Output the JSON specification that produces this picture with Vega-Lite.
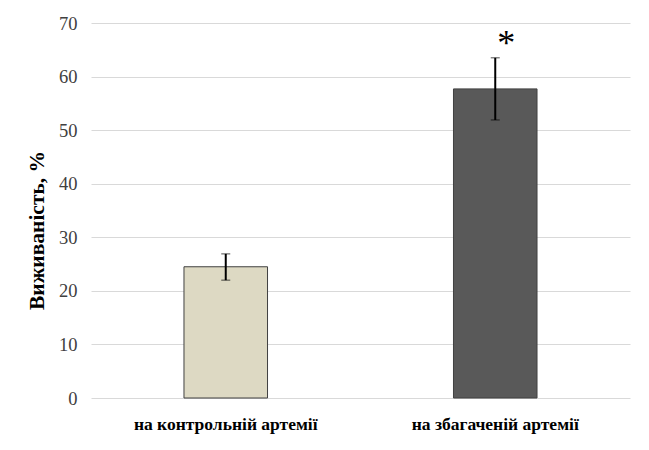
{
  "$schema": "https://vega.github.io/schema/vega-lite/v6.json",
  "width": 539,
  "height": 375,
  "autosize": {"type": "none"},
  "padding": {"left": 91, "top": 23, "right": 19, "bottom": 52},
  "background": "white",
  "config": {"view": {"stroke": null}, "font": "Liberation Serif"},
  "data": {"values": [
    {"group": "на контрольній артемії", "value": 24.5, "lo": 22.0, "hi": 26.9, "mark": ""},
    {"group": "на збагаченій артемії", "value": 57.7, "lo": 51.9, "hi": 63.5, "mark": "*"}
  ]},
  "encoding": {
    "x": {"field": "group", "type": "nominal", "sort": null,
      "scale": {"paddingInner": 0, "paddingOuter": 0},
      "axis": {"title": null, "labelAngle": 0, "domain": false, "ticks": false, "labelLimit": 0,
        "labelFont": "Liberation Serif", "labelFontWeight": "bold", "labelFontSize": 17.5,
        "labelColor": "#000000", "labelPadding": 17}}
  },
  "layer": [
    {
      "mark": {"type": "bar", "width": {"band": 0.31}, "stroke": "#404040", "strokeWidth": 1},
      "encoding": {
        "y": {"field": "value", "type": "quantitative",
          "scale": {"domain": [0, 70], "nice": false},
          "axis": {"values": [0, 10, 20, 30, 40, 50, 60, 70], "title": "Виживаність, %",
            "titleFont": "Liberation Serif", "titleFontWeight": "bold", "titleFontSize": 21.5,
            "titleColor": "#000000", "titlePadding": 10, "titleY": 207,
            "labelFont": "Liberation Serif", "labelFontSize": 18.5, "labelColor": "#404040",
            "labelPadding": 14, "domain": false, "ticks": false,
            "gridColor": "#d9d9d9", "gridWidth": 1}},
        "color": {"field": "group", "type": "nominal", "legend": null,
          "scale": {"domain": ["на контрольній артемії", "на збагаченій артемії"], "range": ["#ddd9c3", "#595959"]}}
      }
    },
    {
      "mark": {"type": "errorbar", "ticks": {"size": 9, "color": "#000000", "strokeWidth": 2}, "rule": {"color": "#000000", "strokeWidth": 2}},
      "encoding": {
        "y": {"field": "lo", "type": "quantitative", "title": "Виживаність, %"},
        "y2": {"field": "hi"}
      }
    },
    {
      "mark": {"type": "text", "font": "Liberation Serif", "fontSize": 36, "baseline": "middle", "dy": 8, "dx": 11, "color": "#000000"},
      "encoding": {
        "y": {"datum": 67.5, "type": "quantitative", "title": "Виживаність, %"},
        "text": {"field": "mark"}
      }
    }
  ]
}
